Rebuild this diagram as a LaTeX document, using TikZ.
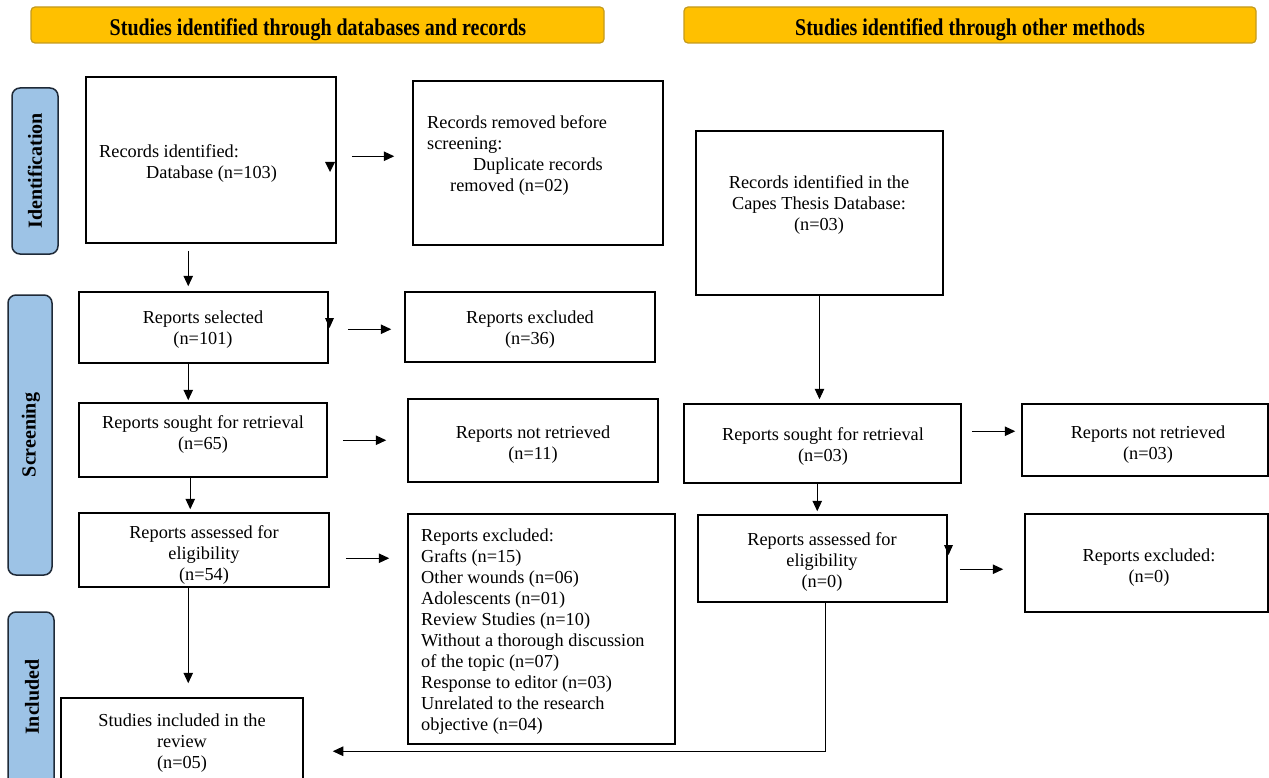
\documentclass[tikz,border=0pt]{standalone}
\usepackage{fontspec}
\setmainfont{Liberation Serif}
\usetikzlibrary{arrows.meta,fit,calc}
\definecolor{hdr}{HTML}{FFC000}
\definecolor{hdrb}{HTML}{C49A1C}
\definecolor{side}{HTML}{9DC3E6}
\definecolor{sideb}{HTML}{1F2A38}
\begin{document}
\begin{tikzpicture}[x=1pt,y=-1pt,
  box/.style={draw=black, line width=1.5pt, inner sep=0pt, rectangle},
  txt/.style={inner sep=0pt, font=\fontsize{18.3}{21}\selectfont, align=center},
  ltxt/.style={inner sep=0pt, font=\fontsize{18.3}{21}\selectfont, align=left, anchor=west},
  hdrbox/.style={draw=hdrb, fill=hdr, line width=1.2pt, rounded corners=4pt, inner sep=0pt},
  sidebox/.style={draw=sideb, fill=side, line width=1.5pt, rounded corners=8pt, inner sep=0pt},
  hdrtxt/.style={font=\fontsize{20}{22}\selectfont\bfseries, inner sep=0pt},
  sidetxt/.style={font=\fontsize{20}{22}\selectfont\bfseries, rotate=90, inner sep=0pt},
  arr/.style={-{Triangle[length=10.5pt,width=9.5pt]}, line width=1pt},
  trimark/.style={fill=black},
]
\useasboundingbox (0,0) rectangle (1269,778);
\clip (0,0) rectangle (1269,778);

% headers
\node[hdrbox, fit={(31,7)(604,43)}] (h1) {};
\node[hdrtxt] (h1t) at (318,29.5) {\scalebox{1}[1.2]{Studies identified through databases and records}};
\node[hdrbox, fit={(684,7)(1256,43)}] (h2) {};
\node[hdrtxt] (h2t) at (970,30) {\scalebox{1}[1.2]{Studies identified through other methods}};

% side labels
\node[sidebox, fit={(12,88)(58,254)}] (s1) {};
\node[sidetxt] (s1t) at (35,171) {Identification};
\node[sidebox, fit={(8,295)(52,575)}] (s2) {};
\node[sidetxt] (s2t) at (31,435) {Screening};
\node[sidebox, fit={(8,612)(54,800)}] (s3) {};
\node[sidetxt] (s3t) at (32,697) {Included};

% boxes
\node[box, fit={(86,77)(336,243)}] (b1) {};
\node[ltxt] (b1t) at (99,164) {Records identified:\\\hspace*{47pt}Database (n=103)};
\node[box, fit={(413,81)(663,245)}] (b2) {};
\node[ltxt] (b2t) at (427,156) {Records removed before\\screening:\\\hspace*{46pt}Duplicate records\\\hspace*{23pt}removed (n=02)};
\node[box, fit={(696,131)(943,295)}] (b3) {};
\node[txt] (b3t) at (819,205) {Records identified in the\\Capes Thesis Database:\\(n=03)};

\node[box, fit={(79,292)(328,363)}] (b4) {};
\node[txt] (b4t) at (203,329.5) {Reports selected\\(n=101)};
\node[box, fit={(405,292)(655,362)}] (b5) {};
\node[txt] (b5t) at (530,329.5) {Reports excluded\\(n=36)};

\node[box, fit={(79,403)(327,477)}] (b6) {};
\node[txt] (b6t) at (203,434.5) {Reports sought for retrieval\\(n=65)};
\node[box, fit={(408,399)(658,482)}] (b7) {};
\node[txt] (b7t) at (533,444.5) {Reports not retrieved\\(n=11)};
\node[box, fit={(684,404)(961,483)}] (b8) {};
\node[txt] (b8t) at (823,446.5) {Reports sought for retrieval\\(n=03)};
\node[box, fit={(1022,404)(1268,476)}] (b9) {};
\node[txt] (b9t) at (1148,444.5) {Reports not retrieved\\(n=03)};

\node[box, fit={(79,513)(329,587)}] (b10) {};
\node[txt] (b10t) at (204,555) {Reports assessed for\\eligibility\\(n=54)};
\node[box, fit={(408,514)(675,744)}] (b11) {};
\node[ltxt] (b11t) at (421,631.5) {Reports excluded:\\Grafts (n=15)\\Other wounds (n=06)\\Adolescents (n=01)\\Review Studies (n=10)\\Without a thorough discussion\\of the topic (n=07)\\Response to editor (n=03)\\Unrelated to the research\\objective (n=04)};
\node[box, fit={(698,515)(947,602)}] (b12) {};
\node[txt] (b12t) at (822,562) {Reports assessed for\\eligibility\\(n=0)};
\node[box, fit={(1025,514)(1268,612)}] (b13) {};
\node[txt] (b13t) at (1149,567.5) {Reports excluded:\\(n=0)};

\node[box, fit={(61,698)(303,800)}] (b14) {};
\node[txt] (b14t) at (182,743) {Studies included in the\\review\\(n=05)};

% markers
\fill[trimark] (325,162) -- (335,162) -- (330,172) -- cycle;
\fill[trimark] (325,318) -- (334,318) -- (329.5,328) -- cycle;
\fill[trimark] (944,545) -- (953,545) -- (948.5,555) -- cycle;

% connectors
\draw[arr] ($(b1.south west)+(103,7)$) -- ($(b4.north west)+(110,-5)$);
\draw[arr] ($(b1.north east)+(15,80)$) -- ($(b2.north west)+(-18,76)$);
\draw[arr] ($(b4.south west)+(110,0)$) -- ($(b6.north west)+(110,-2)$);
\draw[arr] ($(b4.north east)+(19,38)$) -- ($(b5.north west)+(-13,38)$);
\draw[arr] ($(b6.south west)+(112,0)$) -- ($(b10.north west)+(112,-3)$);
\draw[arr] ($(b6.north east)+(15,38)$) -- ($(b7.north west)+(-21,42)$);
\draw[arr] ($(b10.south west)+(110,0)$) -- ($(b14.north west)+(128,-14)$);
\draw[arr] ($(b10.north east)+(16,46)$) -- ($(b11.north west)+(-18,45)$);
\draw[arr, shorten >=4pt] (b3.south) -- (b3.south |- b8.north);
\draw[arr] ($(b8.south west)+(134,0)$) -- ($(b12.north west)+(120,-3)$);
\draw[arr] ($(b8.north east)+(10,28)$) -- ($(b9.north west)+(-6,28)$);
\draw[arr] ($(b12.north east)+(12,55)$) -- ($(b13.north west)+(-21,56)$);
\draw[arr] ($(b12.south west)+(128,0)$) |- ($(b14.north east)+(29,54)$);
\end{tikzpicture}
\end{document}
